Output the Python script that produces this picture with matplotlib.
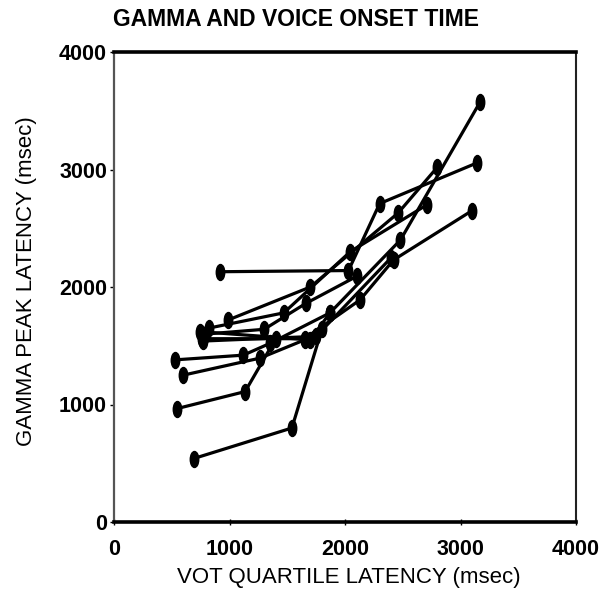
import matplotlib
matplotlib.use("Agg")
import matplotlib.pyplot as plt
from matplotlib.path import Path
from matplotlib.transforms import Affine2D

plt.rcParams['font.family'] = ['Liberation Sans', 'DejaVu Sans']

# one polyline per subject: VOT quartile latency vs gamma peak latency (msec)
s1_x = [690, 1540, 1800]
s1_y = [540, 800, 1640]
s2_x = [545, 1135, 1400]
s2_y = [965, 1110, 1560]
s3_x = [600, 1265, 1650]
s3_y = [1250, 1395, 1550]
s4_x = [530, 1120, 1350, 1870]
s4_y = [1380, 1420, 1520, 1780]
s5_x = [920, 2030, 2300, 3140]
s5_y = [2130, 2140, 2710, 3055]
s6_x = [745, 1700, 1870, 2480, 3170]
s6_y = [1620, 1550, 1780, 2400, 3575]
s7_x = [990, 1700, 2460, 2800]
s7_y = [1720, 2000, 2630, 3020]
s8_x = [820, 1470, 2045, 2710]
s8_y = [1650, 1780, 2300, 2700]
s9_x = [760, 1650, 2130, 2420, 3100]
s9_y = [1560, 1560, 1890, 2230, 2650]
s10_x = [800, 1300, 1660, 2100]
s10_y = [1600, 1640, 1860, 2090]
s11_x = [770, 1750, 2400]
s11_y = [1540, 1580, 2250]

subjects = [(s1_x, s1_y), (s2_x, s2_y), (s3_x, s3_y), (s4_x, s4_y),
            (s5_x, s5_y), (s6_x, s6_y), (s7_x, s7_y), (s8_x, s8_y),
            (s9_x, s9_y), (s10_x, s10_y), (s11_x, s11_y)]

# tall ellipse marker
ellipse = Path.unit_circle().transformed(Affine2D().scale(0.53, 1.0))

fig = plt.figure(figsize=(6.01, 5.90), dpi=100)
ax = fig.add_axes([114 / 601, 68 / 590, 462 / 601, 470 / 590])

for xs, ys in subjects:
    ax.plot(xs, ys, color='black', linewidth=2.3, marker=ellipse,
            markersize=11.5, markerfacecolor='black', markeredgecolor='black')

ax.set_xlim(0, 4000)
ax.set_ylim(0, 4000)
ax.set_xticks([0, 1000, 2000, 3000, 4000])
ax.set_yticks([0, 1000, 2000, 3000, 4000])
for lab in ax.get_xticklabels() + ax.get_yticklabels():
    lab.set_fontweight('bold')
    lab.set_fontsize(15.5)

ax.tick_params(axis='x', direction='inout', length=5, width=1, pad=10)
ax.tick_params(axis='y', direction='out', length=3, width=1, pad=2)

ax.spines['left'].set_color('#555555')
ax.spines['left'].set_linewidth(1.6)
ax.spines['right'].set_color('#222222')
ax.spines['right'].set_linewidth(1.5)
ax.spines['top'].set_linewidth(2.6)
ax.spines['bottom'].set_linewidth(2.6)

fig.text(349 / 601, 1 - 578 / 590, 'VOT QUARTILE LATENCY (msec)',
         ha='center', va='center', fontsize=16)
fig.text(27 / 601, 1 - 281 / 590, 'GAMMA PEAK LATENCY (msec)',
         ha='center', va='center', rotation=90, fontsize=16)
fig.text(0.493, 0.967, 'GAMMA AND VOICE ONSET TIME', ha='center', va='center',
         fontsize=16.5, fontweight='bold')

fig.savefig('out.png', dpi=100)
